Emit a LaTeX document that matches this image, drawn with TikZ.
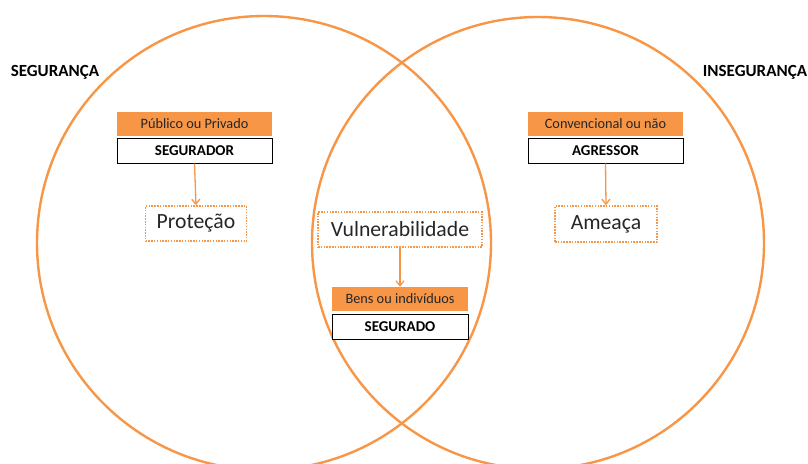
\documentclass[tikz,border=0pt]{standalone}
\usepackage{fontspec}
\setmainfont{Carlito}
\usetikzlibrary{arrows.meta}
\definecolor{accent}{HTML}{F79646}
\definecolor{ink}{HTML}{262626}
\begin{document}
\begin{tikzpicture}[x=1pt,y=-1pt,
  ring/.style={draw=accent,line width=2.4pt},
  tagbox/.style={fill=accent,draw=none,inner sep=0pt,text=ink,font=\fontsize{14.3}{16}\selectfont},
  rolebox/.style={draw=black,line width=1pt,fill=white,inner sep=0pt,text=black,font=\fontsize{15}{17}\selectfont\bfseries},
  ideabox/.style={draw=accent,line width=1.5pt,dash pattern=on 1.5pt off 1.3pt,inner sep=0pt,text=ink,font=\fontsize{21.7}{24}\selectfont},
  flow/.style={draw=accent,line width=1.3pt,-{Straight Barb[length=5pt,width=8pt]}},
  side/.style={text=black,font=\fontsize{17}{19}\selectfont\bfseries}]
\useasboundingbox (0,0) rectangle (808,463);
\begin{scope}
  \clip (0,0) rectangle (808,463);
  \draw[ring] (264,243) circle[radius=227];
  \draw[ring] (538,243) circle[radius=226];
\end{scope}

\node[side] (seg) at (55,72) {SEGURANÇA};
\node[side] (inseg) at (755,72) {INSEGURANÇA};

% left column
\node[tagbox,minimum width=155pt,minimum height=24pt] (pub) at (194.5,123.5) {Público ou Privado};
\node[rolebox,minimum width=155pt,minimum height=25pt] (segurador) at (194.5,150.5) {SEGURADOR};
\node[ideabox,minimum width=101pt,minimum height=35pt] (protecao) at (196,223.5) {Proteção};
\draw[flow] (segurador.south) -- (protecao.north);

% middle column
\node[ideabox,minimum width=164pt,minimum height=35pt] (vuln) at (400,229.5) {Vulnerabilidade};
\node[tagbox,minimum width=136pt,minimum height=24pt] (bens) at (400,299) {Bens ou indivíduos};
\node[rolebox,minimum width=136pt,minimum height=25pt] (segurado) at (400,326.5) {SEGURADO};
\draw[flow] (vuln.south) -- (bens.north);

% right column
\node[tagbox,minimum width=155pt,minimum height=24pt] (conv) at (605.5,124) {Convencional ou não};
\node[rolebox,minimum width=155pt,minimum height=25pt] (agressor) at (605.5,150.5) {AGRESSOR};
\node[ideabox,minimum width=102pt,minimum height=36pt] (ameaca) at (606,224) {Ameaça};
\draw[flow] (agressor.south) -- (ameaca.north);
\end{tikzpicture}
\end{document}
